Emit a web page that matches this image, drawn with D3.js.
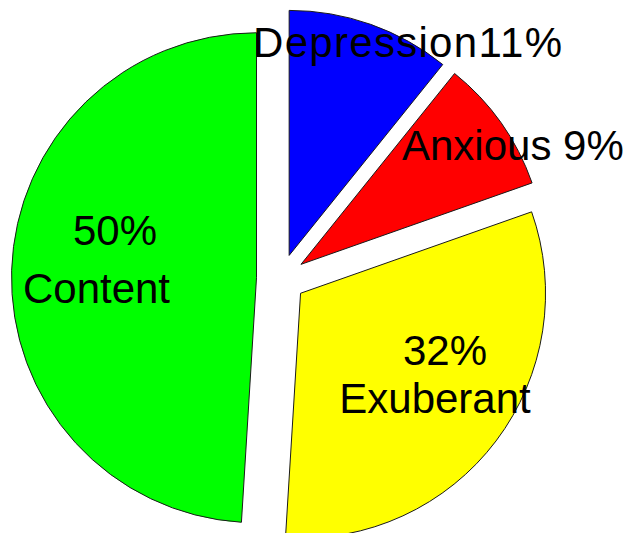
<!DOCTYPE html>
<html>
<head>
<meta charset="utf-8">
<script src="https://cdn.jsdelivr.net/npm/d3@7"></script>
<style>
  html, body { margin: 0; padding: 0; background: #ffffff; }
  svg { display: block; }
  text { font-family: "Liberation Sans", Arial, sans-serif; fill: #000; }
</style>
</head>
<body>
<svg id="chart" width="631" height="533"></svg>
<script>
// Mood shares, clockwise from 12 o'clock
const categories = ["Depression", "Anxious", "Exuberant", "Content"];
const percentages = [11, 9, 32, 50];
const sliceColors = ["#0000ff", "#ff0000", "#ffff00", "#00ff00"];

const W = 631, H = 533;
const cx = 281, cy = 278.5;   // pie centre
const radius = 245;
const explode = 24.5;         // distance each slice is pulled out along its bisector

const svg = d3.select("#chart");

const pie = d3.pie().sort(null).value(d => d.value).startAngle(0).endAngle(2 * Math.PI);
const arcs = pie(categories.map((c, i) => ({ name: c, value: percentages[i] })));

const arc = d3.arc().innerRadius(0).outerRadius(radius);
const color = d3.scaleOrdinal().domain(categories).range(sliceColors);

const g = svg.append("g").attr("transform", `translate(${cx},${cy})`);

g.selectAll("path.slice")
  .data(arcs)
  .join("path")
  .attr("class", "slice")
  .attr("d", arc)
  .attr("transform", d => {
    const mid = (d.startAngle + d.endAngle) / 2;
    return `translate(${explode * Math.sin(mid)},${-explode * Math.cos(mid)})`;
  })
  .attr("fill", d => color(d.data.name))
  .attr("stroke", "#1a1a1a")
  .attr("stroke-width", 1)
  .attr("stroke-linejoin", "miter");

// Label placement (page coordinates) and line formats per category
const labelLayout = {
  Depression: { anchor: "start",  spacing: 1.3,
                lines: [{ x: 253, y: 57,  fmt: d => `${d.name}${d.value}%` }] },
  Anxious:    { anchor: "start",  spacing: 0,
                lines: [{ x: 402, y: 160, fmt: d => `${d.name} ${d.value}%` }] },
  Exuberant:  { anchor: "middle", spacing: 0,
                lines: [{ x: 445, y: 365, fmt: d => `${d.value}%` },
                        { x: 435, y: 413, fmt: d => d.name }] },
  Content:    { anchor: "middle", spacing: 0,
                lines: [{ x: 115, y: 245, fmt: d => `${d.value}%` },
                        { x: 96.5, y: 303, fmt: d => d.name }] }
};

const labels = svg.append("g").attr("class", "labels");
arcs.forEach(a => {
  const lay = labelLayout[a.data.name];
  lay.lines.forEach(l => {
    labels.append("text")
      .attr("x", l.x)
      .attr("y", l.y)
      .attr("text-anchor", lay.anchor)
      .attr("font-size", 42)
      .attr("letter-spacing", lay.spacing)
      .text(l.fmt(a.data));
  });
});
</script>
</body>
</html>
